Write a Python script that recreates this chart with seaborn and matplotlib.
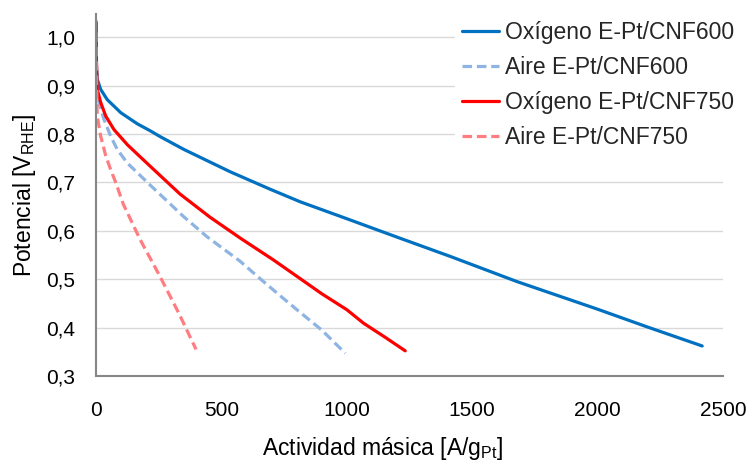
import numpy as np
import pandas as pd
import matplotlib
matplotlib.use("Agg")
import matplotlib.pyplot as plt
import seaborn as sns
from matplotlib.ticker import FuncFormatter

# ---- data ----
o2_600_x = [0, 1, 2, 5, 19, 45, 99, 165, 215, 258, 351, 535, 694, 814, 1000, 1200, 1413, 1679, 2000, 2200, 2417]
o2_600_y = [1.033, 0.97, 0.94, 0.913, 0.892, 0.871, 0.844, 0.821, 0.807, 0.794, 0.768, 0.722, 0.686, 0.660, 0.625, 0.587, 0.547, 0.495, 0.438, 0.401, 0.362]

air_600_x = [0, 1, 3, 12, 32, 59, 85, 125, 215, 348, 442, 575, 650, 734, 801, 900, 994]
air_600_y = [0.96, 0.93, 0.90, 0.865, 0.830, 0.795, 0.768, 0.740, 0.695, 0.630, 0.588, 0.537, 0.503, 0.466, 0.437, 0.395, 0.347]

o2_750_x = [0, 1, 2, 5, 19, 39, 72, 125, 178, 215, 335, 455, 575, 707, 801, 900, 1000, 1067, 1150, 1233]
o2_750_y = [1.03, 0.99, 0.95, 0.892, 0.865, 0.837, 0.809, 0.778, 0.752, 0.734, 0.676, 0.628, 0.585, 0.540, 0.506, 0.470, 0.437, 0.409, 0.381, 0.352]

air_750_x = [0, 1, 2, 5, 19, 39, 56, 80, 109, 176, 255, 330, 399]
air_750_y = [1.01, 0.96, 0.92, 0.837, 0.795, 0.755, 0.730, 0.698, 0.655, 0.582, 0.506, 0.430, 0.355]

labels = ["Oxígeno E-Pt/CNF600", "Aire E-Pt/CNF600", "Oxígeno E-Pt/CNF750", "Aire E-Pt/CNF750"]
colors = ["#0070C0", "#8DB4E2", "#FF0000", "#FF7C80"]
styles = ["-", (0, (3, 1.5)), "-", (0, (3, 1.5))]

x_ticks = [0, 500, 1000, 1500, 2000, 2500]
y_ticks = [0.3, 0.4, 0.5, 0.6, 0.7, 0.8, 0.9, 1.0]

# ---- plot ----
sns.set_theme(style="white")
plt.rcParams["font.family"] = ["Liberation Sans", "DejaVu Sans"]
plt.rcParams["mathtext.default"] = "regular"

fig = plt.figure(figsize=(7.48, 4.63), dpi=100)
ax = fig.add_axes([0.1283, 0.1879, 0.9666 - 0.1283, 0.9698 - 0.1879])

series = [(o2_600_x, o2_600_y), (air_600_x, air_600_y), (o2_750_x, o2_750_y), (air_750_x, air_750_y)]
for (xs, ys), lab, col, ls in zip(series, labels, colors, styles):
    sns.lineplot(x=xs, y=ys, ax=ax, color=col, linestyle=ls, linewidth=2.3,
                 label=lab, sort=False, estimator=None)

ax.set_xlim(0, 2500)
ax.set_ylim(0.3, 1.048)
ax.set_xticks(x_ticks)
ax.set_yticks(y_ticks)
ax.xaxis.set_major_formatter(FuncFormatter(lambda v, p: f"{v:.0f}"))
ax.yaxis.set_major_formatter(FuncFormatter(lambda v, p: f"{v:.1f}".replace(".", ",")))

ax.grid(axis="y", color="#D9D9D9", linewidth=1.0)
ax.grid(axis="x", visible=False)
ax.set_axisbelow(True)

for s in ["top", "right"]:
    ax.spines[s].set_visible(False)
for s in ["left", "bottom"]:
    ax.spines[s].set_color("#868686")
    ax.spines[s].set_linewidth(1.5)

ax.tick_params(axis="both", which="major", direction="out", length=6, width=1,
               color="#868686", labelsize=15, labelcolor="black")
ax.tick_params(axis="x", pad=12)
ax.tick_params(axis="y", pad=9)

ax.set_xlabel("Actividad másica [A/g$_{Pt}$]", fontsize=16.5, color="#000000")
ax.set_ylabel("Potencial [V$_{RHE}$]", fontsize=16.5, color="#000000")
ax.xaxis.set_label_coords((383 - 96) / 627, -(448 - 376) / 362)
ax.yaxis.set_label_coords((25 - 96) / 627, 0.5)
ax.xaxis.label.set_verticalalignment("center")
ax.yaxis.label.set_verticalalignment("center")

leg = ax.legend(loc="upper left", bbox_to_anchor=(455 / 748, 1 - 14 / 463),
                bbox_transform=fig.transFigure, frameon=True, fontsize=16.5,
                handlelength=1.6, handletextpad=0.3, labelspacing=0.52, borderpad=0.3,
                borderaxespad=0.0)
leg.get_frame().set_facecolor("white")
leg.get_frame().set_edgecolor("white")
leg.get_frame().set_alpha(1.0)

fig.savefig("out.png", dpi=100)
